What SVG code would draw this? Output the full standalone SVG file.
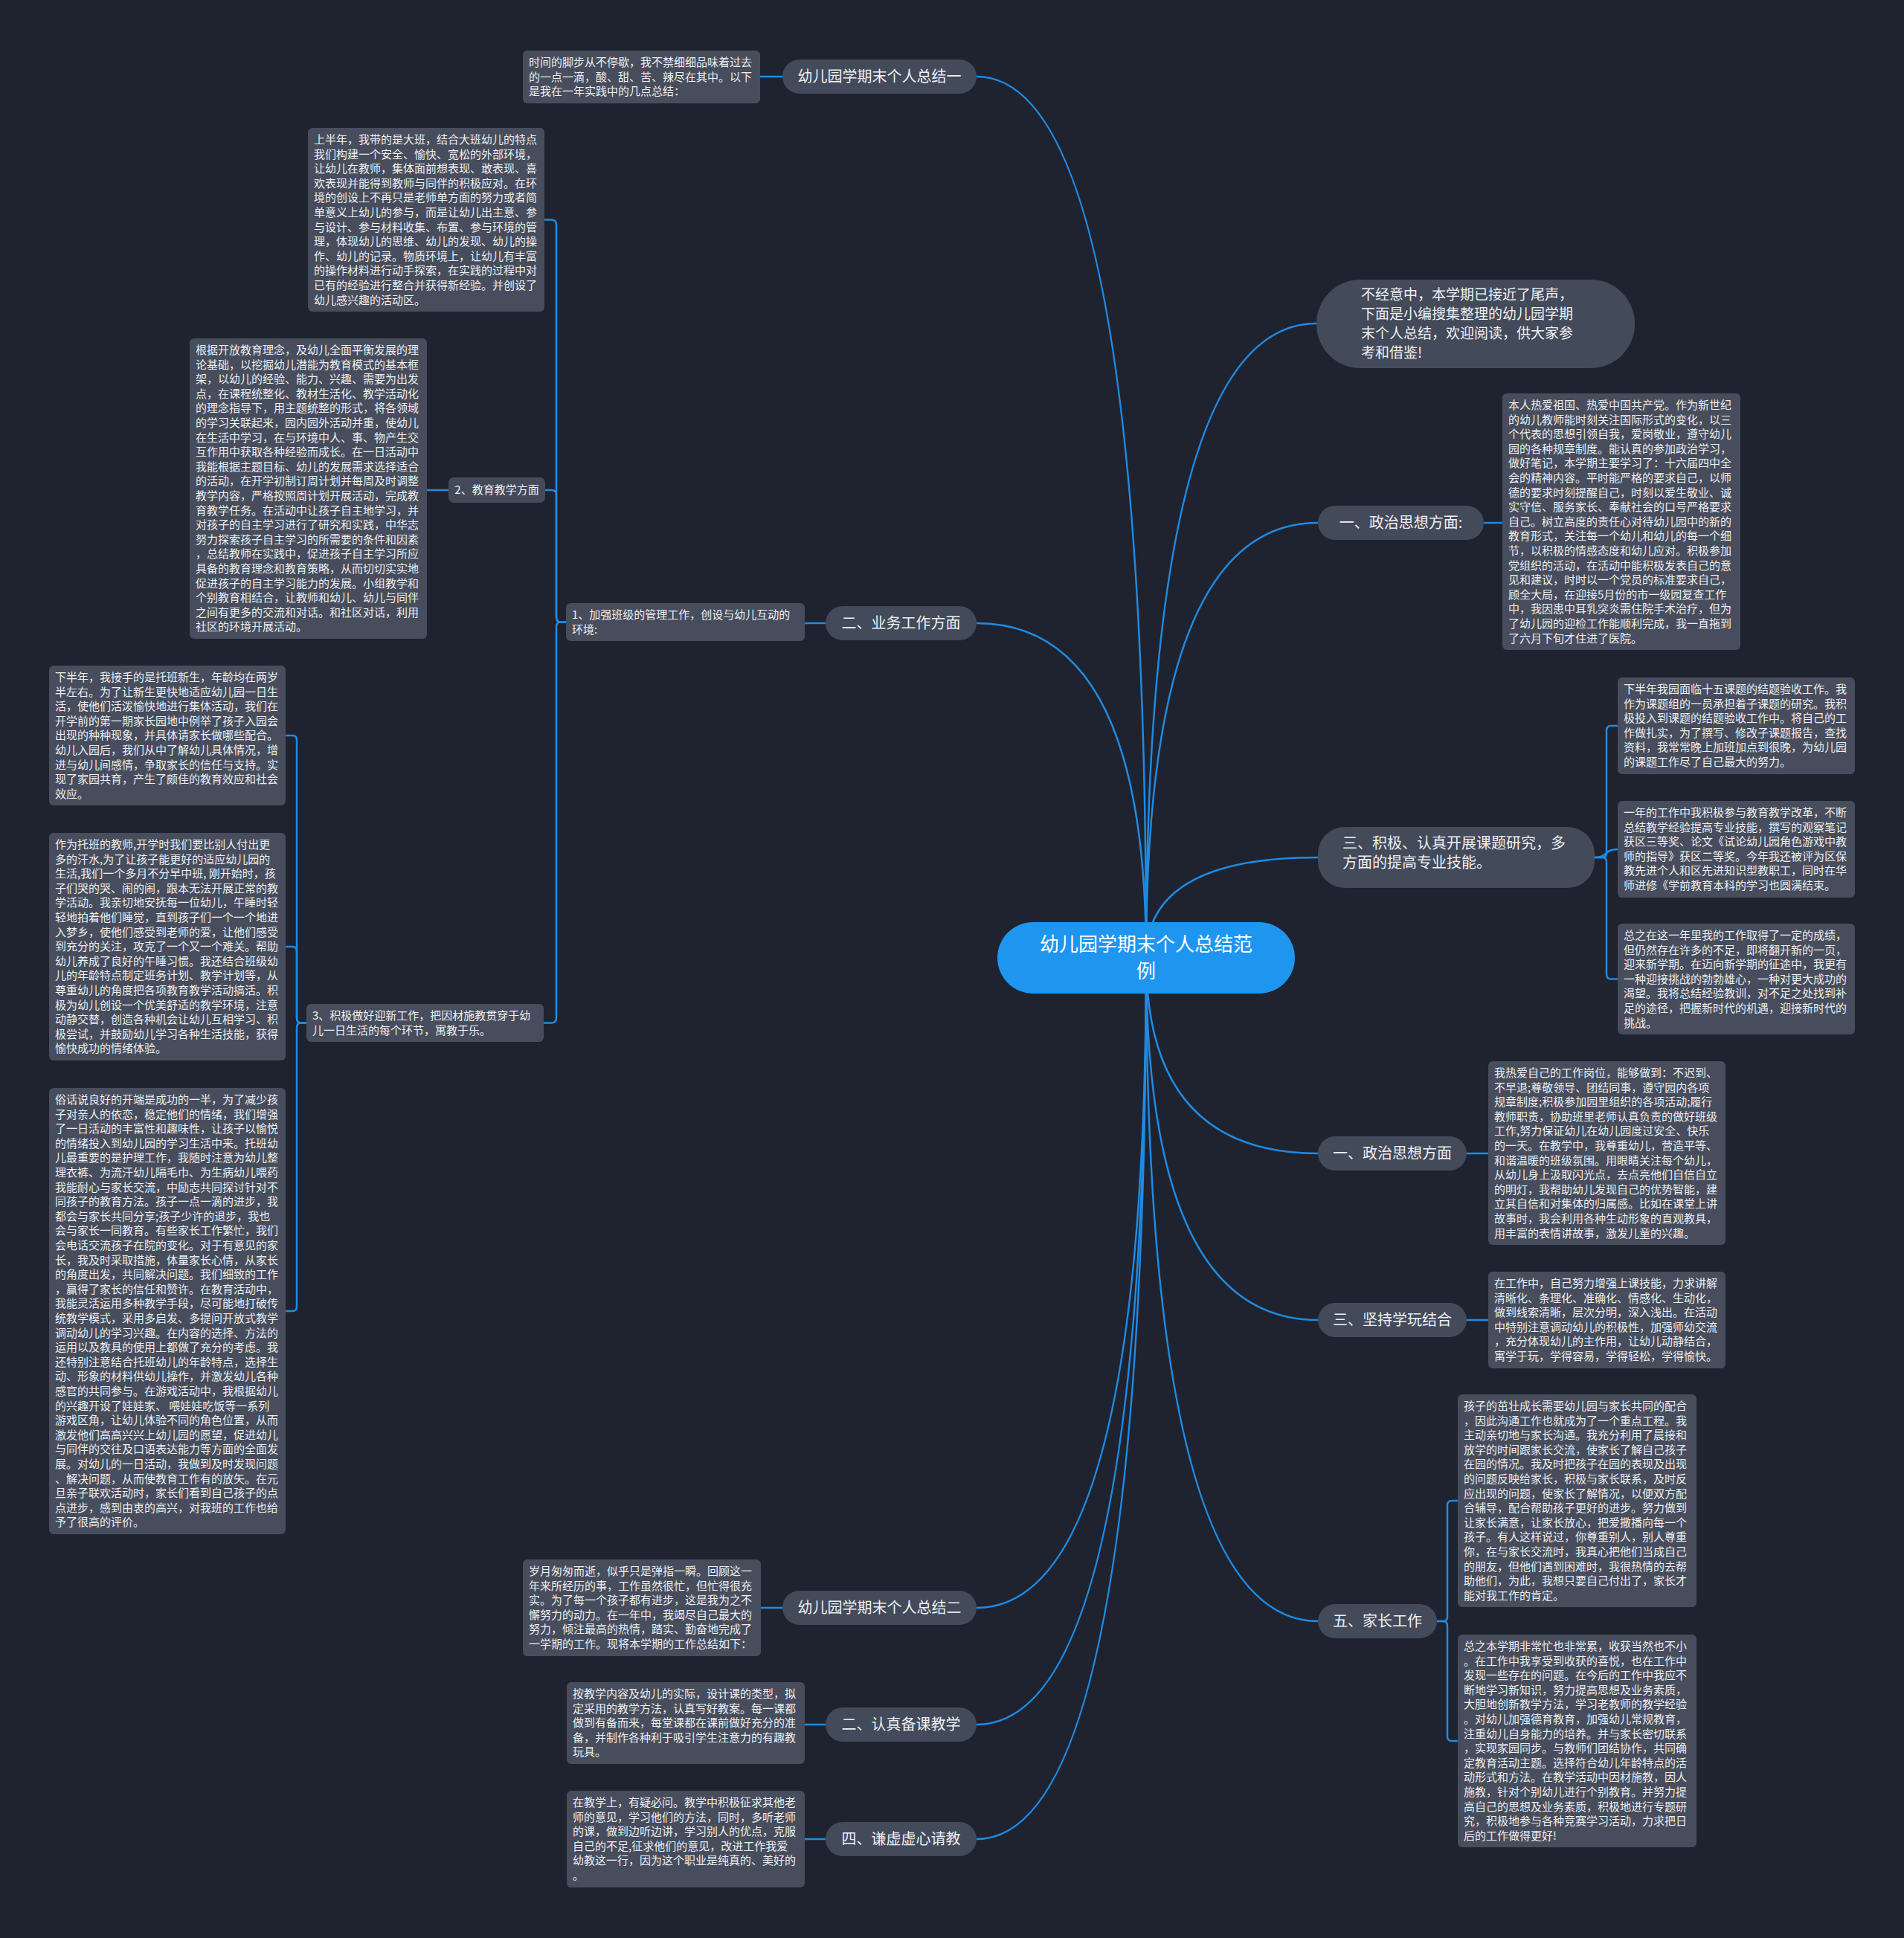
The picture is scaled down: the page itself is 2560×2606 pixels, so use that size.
<svg xmlns="http://www.w3.org/2000/svg" width="2560" height="2606" viewBox="0 0 2560 2606">
<style>
.bg{fill:#1f2330}
.box{fill:#474d5c}
.node{fill:#434a5a}
.t{font-family:"Noto Sans CJK SC","Noto Sans",sans-serif;font-size:15px;fill:#eef0f3}
.nt{font-family:"Noto Sans CJK SC","Noto Sans",sans-serif;font-size:20px;fill:#eef0f3}
.ct{font-family:"Noto Sans CJK SC","Noto Sans",sans-serif;font-size:26px;fill:#ffffff}
.link{fill:none;stroke:#1f8be3;stroke-width:2.5}
</style>
<rect class="bg" x="0" y="0" width="2560" height="2606"/>
<g id="connectors">
<path class="link" d="M1541,1288 Q1541,103 1313,103"/>
<path class="link" d="M1541,1288 Q1541,838 1313,838"/>
<path class="link" d="M1541,1288 Q1541,2162 1313,2162"/>
<path class="link" d="M1541,1288 Q1541,2319 1313,2319"/>
<path class="link" d="M1541,1288 Q1541,2473 1313,2473"/>
<path class="link" d="M1541,1288 Q1541,435 1770,435"/>
<path class="link" d="M1541,1288 Q1541,703 1772,703"/>
<path class="link" d="M1541,1288 Q1541,1153 1772,1153"/>
<path class="link" d="M1541,1288 Q1541,1551 1772,1551"/>
<path class="link" d="M1541,1288 Q1541,1775 1772,1775"/>
<path class="link" d="M1541,1288 Q1541,2180 1772,2180"/>
<path class="link" d="M1052,103 H1022"/>
<path class="link" d="M1110,838 H1082"/>
<path class="link" d="M761,836.5 H754 Q748,836.5 748,830 V302 Q748,295.5 741,295.5 H731"/>
<path class="link" d="M761,836.5 H754 Q748,836.5 748,830 V665 Q748,659 741,659 H733"/>
<path class="link" d="M761,836.5 H754 Q748,836.5 748,843 V1369 Q748,1375.5 741,1375.5 H731"/>
<path class="link" d="M603,659 H574"/>
<path class="link" d="M412,1375.5 H405 Q399,1375.5 399,1369 V995 Q399,989 393,989 H384"/>
<path class="link" d="M412,1375.5 H405 Q399,1375.5 399,1369 V1279 Q399,1273 393,1273 H384"/>
<path class="link" d="M412,1375.5 H405 Q399,1375.5 399,1382 V1757 Q399,1763 393,1763 H384"/>
<path class="link" d="M1052,2162 H1023"/>
<path class="link" d="M1110,2319 H1082"/>
<path class="link" d="M1110,2473 H1082"/>
<path class="link" d="M1995,703 H2020"/>
<path class="link" d="M2144,1153 H2154 Q2160,1153 2160,1147 V982 Q2160,976 2166,976 H2175"/>
<path class="link" d="M2144,1153 C2162,1153 2156,1142 2175,1142"/>
<path class="link" d="M2144,1153 H2154 Q2160,1153 2160,1159 V1310 Q2160,1316.5 2166,1316.5 H2175"/>
<path class="link" d="M1972,1551 H2001"/>
<path class="link" d="M1972,1775 H2001"/>
<path class="link" d="M1932,2180 H1940 Q1946,2180 1946,2174 V2024 Q1946,2018 1952,2018 H1960"/>
<path class="link" d="M1932,2180 H1940 Q1946,2180 1946,2186 V2335 Q1946,2341 1952,2341 H1960"/>
</g>
<g id="center">
<rect x="1341" y="1240" width="400" height="96" rx="48" fill="#1e96f0"/>
<text class="ct" text-anchor="middle"><tspan x="1541" y="1279">幼儿园学期末个人总结范</tspan><tspan x="1541" y="1315">例</tspan></text>
</g>
<g id="n-summary1">
<rect class="node" x="1052" y="80" width="261" height="46" rx="23"/>
<text class="nt" x="1182.5" y="110" text-anchor="middle">幼儿园学期末个人总结一</text>
</g>
<g id="b-summary1">
<rect class="box" x="703" y="68" width="319" height="71" rx="6"/>
<text class="t" x="711" y="89"><tspan x="711">时间的脚步从不停歇，我不禁细细品味着过去</tspan><tspan x="711" dy="19.6">的一点一滴，酸、甜、苦、辣尽在其中。以下</tspan><tspan x="711" dy="19.6">是我在一年实践中的几点总结：</tspan></text>
</g>
<g id="n-business">
<rect class="node" x="1110" y="815" width="203" height="46" rx="23"/>
<text class="nt" x="1211.5" y="845" text-anchor="middle">二、业务工作方面</text>
</g>
<g id="b-class">
<rect class="box" x="761" y="811" width="321" height="51" rx="6"/>
<text class="t" x="769" y="832"><tspan x="769">1、加强班级的管理工作，创设与幼儿互动的</tspan><tspan x="769" dy="19.6">环境:</tspan></text>
</g>
<g id="b-firsthalf">
<rect class="box" x="414" y="172" width="318" height="247" rx="6"/>
<text class="t" x="422" y="193"><tspan x="422">上半年，我带的是大班，结合大班幼儿的特点</tspan><tspan x="422" dy="19.6">我们构建一个安全、愉快、宽松的外部环境，</tspan><tspan x="422" dy="19.6">让幼儿在教师，集体面前想表现、敢表现、喜</tspan><tspan x="422" dy="19.6">欢表现并能得到教师与同伴的积极应对。在环</tspan><tspan x="422" dy="19.6">境的创设上不再只是老师单方面的努力或者简</tspan><tspan x="422" dy="19.6">单意义上幼儿的参与，而是让幼儿出主意、参</tspan><tspan x="422" dy="19.6">与设计、参与材料收集、布置、参与环境的管</tspan><tspan x="422" dy="19.6">理，体现幼儿的思维、幼儿的发现、幼儿的操</tspan><tspan x="422" dy="19.6">作、幼儿的记录。物质环境上，让幼儿有丰富</tspan><tspan x="422" dy="19.6">的操作材料进行动手探索，在实践的过程中对</tspan><tspan x="422" dy="19.6">已有的经验进行整合并获得新经验。并创设了</tspan><tspan x="422" dy="19.6">幼儿感兴趣的活动区。</tspan></text>
</g>
<g id="n-teaching">
<rect class="node" x="603" y="642" width="130" height="34" rx="7"/>
<text class="t" x="668" y="664" text-anchor="middle">2、教育教学方面</text>
</g>
<g id="b-teaching">
<rect class="box" x="255" y="455" width="319" height="404" rx="6"/>
<text class="t" x="263" y="476"><tspan x="263">根据开放教育理念，及幼儿全面平衡发展的理</tspan><tspan x="263" dy="19.6">论基础，以挖掘幼儿潜能为教育模式的基本框</tspan><tspan x="263" dy="19.6">架，以幼儿的经验、能力、兴趣、需要为出发</tspan><tspan x="263" dy="19.6">点，在课程统整化、教材生活化、教学活动化</tspan><tspan x="263" dy="19.6">的理念指导下，用主题统整的形式，将各领域</tspan><tspan x="263" dy="19.6">的学习关联起来，园内园外活动并重，使幼儿</tspan><tspan x="263" dy="19.6">在生活中学习，在与环境中人、事、物产生交</tspan><tspan x="263" dy="19.6">互作用中获取各种经验而成长。在一日活动中</tspan><tspan x="263" dy="19.6">我能根据主题目标、幼儿的发展需求选择适合</tspan><tspan x="263" dy="19.6">的活动，在开学初制订周计划并每周及时调整</tspan><tspan x="263" dy="19.6">教学内容，严格按照周计划开展活动，完成教</tspan><tspan x="263" dy="19.6">育教学任务。在活动中让孩子自主地学习，并</tspan><tspan x="263" dy="19.6">对孩子的自主学习进行了研究和实践，中华志</tspan><tspan x="263" dy="19.6">努力探索孩子自主学习的所需要的条件和因素</tspan><tspan x="263" dy="19.6">，总结教师在实践中，促进孩子自主学习所应</tspan><tspan x="263" dy="19.6">具备的教育理念和教育策略，从而切切实实地</tspan><tspan x="263" dy="19.6">促进孩子的自主学习能力的发展。小组教学和</tspan><tspan x="263" dy="19.6">个别教育相结合，让教师和幼儿、幼儿与同伴</tspan><tspan x="263" dy="19.6">之间有更多的交流和对话。和社区对话，利用</tspan><tspan x="263" dy="19.6">社区的环境开展活动。</tspan></text>
</g>
<g id="b-welcome">
<rect class="box" x="412" y="1350" width="319" height="51" rx="6"/>
<text class="t" x="420" y="1371"><tspan x="420">3、积极做好迎新工作，把因材施教贯穿于幼</tspan><tspan x="420" dy="19.6">儿一日生活的每个环节，寓教于乐。</tspan></text>
</g>
<g id="b-secondhalf">
<rect class="box" x="66" y="895" width="318" height="188" rx="6"/>
<text class="t" x="74" y="916"><tspan x="74">下半年，我接手的是托班新生，年龄均在两岁</tspan><tspan x="74" dy="19.6">半左右。为了让新生更快地适应幼儿园一日生</tspan><tspan x="74" dy="19.6">活，使他们活泼愉快地进行集体活动，我们在</tspan><tspan x="74" dy="19.6">开学前的第一期家长园地中例举了孩子入园会</tspan><tspan x="74" dy="19.6">出现的种种现象，并具体请家长做哪些配合。</tspan><tspan x="74" dy="19.6">幼儿入园后，我们从中了解幼儿具体情况，增</tspan><tspan x="74" dy="19.6">进与幼儿间感情，争取家长的信任与支持。实</tspan><tspan x="74" dy="19.6">现了家园共育，产生了颇佳的教育效应和社会</tspan><tspan x="74" dy="19.6">效应。</tspan></text>
</g>
<g id="b-nursery">
<rect class="box" x="66" y="1120" width="318" height="306" rx="6"/>
<text class="t" x="74" y="1141"><tspan x="74">作为托班的教师,开学时我们要比别人付出更</tspan><tspan x="74" dy="19.6">多的汗水,为了让孩子能更好的适应幼儿园的</tspan><tspan x="74" dy="19.6">生活,我们一个多月不分早中班, 刚开始时，孩</tspan><tspan x="74" dy="19.6">子们哭的哭、闹的闹，跟本无法开展正常的教</tspan><tspan x="74" dy="19.6">学活动。我亲切地安抚每一位幼儿，午睡时轻</tspan><tspan x="74" dy="19.6">轻地拍着他们睡觉，直到孩子们一个一个地进</tspan><tspan x="74" dy="19.6">入梦乡，使他们感受到老师的爱，让他们感受</tspan><tspan x="74" dy="19.6">到充分的关注，攻克了一个又一个难关。帮助</tspan><tspan x="74" dy="19.6">幼儿养成了良好的午睡习惯。我还结合班级幼</tspan><tspan x="74" dy="19.6">儿的年龄特点制定班务计划、教学计划等，从</tspan><tspan x="74" dy="19.6">尊重幼儿的角度把各项教育教学活动搞活。积</tspan><tspan x="74" dy="19.6">极为幼儿创设一个优美舒适的教学环境，注意</tspan><tspan x="74" dy="19.6">动静交替，创造各种机会让幼儿互相学习、积</tspan><tspan x="74" dy="19.6">极尝试，并鼓励幼儿学习各种生活技能，获得</tspan><tspan x="74" dy="19.6">愉快成功的情绪体验。</tspan></text>
</g>
<g id="b-start">
<rect class="box" x="66" y="1463" width="318" height="600" rx="6"/>
<text class="t" x="74" y="1484"><tspan x="74">俗话说良好的开端是成功的一半，为了减少孩</tspan><tspan x="74" dy="19.6">子对亲人的依恋，稳定他们的情绪，我们增强</tspan><tspan x="74" dy="19.6">了一日活动的丰富性和趣味性，让孩子以愉悦</tspan><tspan x="74" dy="19.6">的情绪投入到幼儿园的学习生活中来。托班幼</tspan><tspan x="74" dy="19.6">儿最重要的是护理工作，我随时注意为幼儿整</tspan><tspan x="74" dy="19.6">理衣裤、为流汗幼儿隔毛巾、为生病幼儿喂药</tspan><tspan x="74" dy="19.6">我能耐心与家长交流，中励志共同探讨针对不</tspan><tspan x="74" dy="19.6">同孩子的教育方法。孩子一点一滴的进步，我</tspan><tspan x="74" dy="19.6">都会与家长共同分享;孩子少许的退步，我也</tspan><tspan x="74" dy="19.6">会与家长一同教育。有些家长工作繁忙，我们</tspan><tspan x="74" dy="19.6">会电话交流孩子在院的变化。对于有意见的家</tspan><tspan x="74" dy="19.6">长，我及时采取措施，体量家长心情，从家长</tspan><tspan x="74" dy="19.6">的角度出发，共同解决问题。我们细致的工作</tspan><tspan x="74" dy="19.6">，赢得了家长的信任和赞许。在教育活动中，</tspan><tspan x="74" dy="19.6">我能灵活运用多种教学手段，尽可能地打破传</tspan><tspan x="74" dy="19.6">统教学模式，采用多启发、多提问开放式教学</tspan><tspan x="74" dy="19.6">调动幼儿的学习兴趣。在内容的选择、方法的</tspan><tspan x="74" dy="19.6">运用以及教具的使用上都做了充分的考虑。我</tspan><tspan x="74" dy="19.6">还特别注意结合托班幼儿的年龄特点，选择生</tspan><tspan x="74" dy="19.6">动、形象的材料供幼儿操作，并激发幼儿各种</tspan><tspan x="74" dy="19.6">感官的共同参与。在游戏活动中，我根据幼儿</tspan><tspan x="74" dy="19.6">的兴趣开设了娃娃家、 喂娃娃吃饭等一系列</tspan><tspan x="74" dy="19.6">游戏区角，让幼儿体验不同的角色位置，从而</tspan><tspan x="74" dy="19.6">激发他们高高兴兴上幼儿园的愿望，促进幼儿</tspan><tspan x="74" dy="19.6">与同伴的交往及口语表达能力等方面的全面发</tspan><tspan x="74" dy="19.6">展。对幼儿的一日活动，我做到及时发现问题</tspan><tspan x="74" dy="19.6">、解决问题，从而使教育工作有的放矢。在元</tspan><tspan x="74" dy="19.6">旦亲子联欢活动时，家长们看到自己孩子的点</tspan><tspan x="74" dy="19.6">点进步，感到由衷的高兴，对我班的工作也给</tspan><tspan x="74" dy="19.6">予了很高的评价。</tspan></text>
</g>
<g id="n-summary2">
<rect class="node" x="1052" y="2139" width="261" height="46" rx="23"/>
<text class="nt" x="1182.5" y="2169" text-anchor="middle">幼儿园学期末个人总结二</text>
</g>
<g id="b-summary2">
<rect class="box" x="703" y="2097" width="320" height="130" rx="6"/>
<text class="t" x="711" y="2118"><tspan x="711">岁月匆匆而逝，似乎只是弹指一瞬。回顾这一</tspan><tspan x="711" dy="19.6">年来所经历的事，工作虽然很忙，但忙得很充</tspan><tspan x="711" dy="19.6">实。为了每一个孩子都有进步，这是我为之不</tspan><tspan x="711" dy="19.6">懈努力的动力。在一年中，我竭尽自己最大的</tspan><tspan x="711" dy="19.6">努力，倾注最高的热情，踏实、勤奋地完成了</tspan><tspan x="711" dy="19.6">一学期的工作。现将本学期的工作总结如下：</tspan></text>
</g>
<g id="n-prepare">
<rect class="node" x="1110" y="2296" width="203" height="46" rx="23"/>
<text class="nt" x="1211.5" y="2326" text-anchor="middle">二、认真备课教学</text>
</g>
<g id="b-prepare">
<rect class="box" x="762" y="2262" width="320" height="110" rx="6"/>
<text class="t" x="770" y="2283"><tspan x="770">按教学内容及幼儿的实际，设计课的类型，拟</tspan><tspan x="770" dy="19.6">定采用的教学方法，认真写好教案。每一课都</tspan><tspan x="770" dy="19.6">做到有备而来，每堂课都在课前做好充分的准</tspan><tspan x="770" dy="19.6">备，并制作各种利于吸引学生注意力的有趣教</tspan><tspan x="770" dy="19.6">玩具。</tspan></text>
</g>
<g id="n-humble">
<rect class="node" x="1110" y="2450" width="203" height="46" rx="23"/>
<text class="nt" x="1211.5" y="2480" text-anchor="middle">四、谦虚虚心请教</text>
</g>
<g id="b-humble">
<rect class="box" x="762" y="2408" width="320" height="130" rx="6"/>
<text class="t" x="770" y="2429"><tspan x="770">在教学上，有疑必问。教学中积极征求其他老</tspan><tspan x="770" dy="19.6">师的意见，学习他们的方法，同时，多听老师</tspan><tspan x="770" dy="19.6">的课，做到边听边讲，学习别人的优点，克服</tspan><tspan x="770" dy="19.6">自己的不足,征求他们的意见，改进工作我爱</tspan><tspan x="770" dy="19.6">幼教这一行，因为这个职业是纯真的、美好的</tspan><tspan x="770" dy="19.6">。</tspan></text>
</g>
<g id="n-intro">
<rect class="node" x="1770" y="376" width="428" height="119" rx="59"/>
<text class="nt" x="1830" y="403" style="font-size:19px"><tspan x="1830">不经意中，本学期已接近了尾声，</tspan><tspan x="1830" dy="26">下面是小编搜集整理的幼儿园学期</tspan><tspan x="1830" dy="26">末个人总结，欢迎阅读，供大家参</tspan><tspan x="1830" dy="26">考和借鉴!</tspan></text>
</g>
<g id="n-politics1">
<rect class="node" x="1772" y="680" width="223" height="46" rx="23"/>
<text class="nt" x="1883.5" y="710" text-anchor="middle">一、政治思想方面:</text>
</g>
<g id="b-politics1">
<rect class="box" x="2020" y="529" width="320" height="345" rx="6"/>
<text class="t" x="2028" y="550"><tspan x="2028">本人热爱祖国、热爱中国共产党。作为新世纪</tspan><tspan x="2028" dy="19.6">的幼儿教师能时刻关注国际形式的变化，以三</tspan><tspan x="2028" dy="19.6">个代表的思想引领自我，爱岗敬业，遵守幼儿</tspan><tspan x="2028" dy="19.6">园的各种规章制度。能认真的参加政治学习，</tspan><tspan x="2028" dy="19.6">做好笔记，本学期主要学习了：十六届四中全</tspan><tspan x="2028" dy="19.6">会的精神内容。平时能严格的要求自己，以师</tspan><tspan x="2028" dy="19.6">德的要求时刻提醒自己，时刻以爱生敬业、诚</tspan><tspan x="2028" dy="19.6">实守信、服务家长、奉献社会的口号严格要求</tspan><tspan x="2028" dy="19.6">自己。树立高度的责任心对待幼儿园中的新的</tspan><tspan x="2028" dy="19.6">教育形式，关注每一个幼儿和幼儿的每一个细</tspan><tspan x="2028" dy="19.6">节，以积极的情感态度和幼儿应对。积极参加</tspan><tspan x="2028" dy="19.6">党组织的活动，在活动中能积极发表自己的意</tspan><tspan x="2028" dy="19.6">见和建议，时时以一个党员的标准要求自己，</tspan><tspan x="2028" dy="19.6">顾全大局，在迎接5月份的市一级园复查工作</tspan><tspan x="2028" dy="19.6">中，我因患中耳乳突炎需住院手术治疗，但为</tspan><tspan x="2028" dy="19.6">了幼儿园的迎检工作能顺利完成，我一直拖到</tspan><tspan x="2028" dy="19.6">了六月下旬才住进了医院。</tspan></text>
</g>
<g id="n-research">
<rect class="node" x="1772" y="1112" width="372" height="82" rx="36"/>
<text class="nt" x="1805" y="1141"><tspan x="1805">三、积极、认真开展课题研究，多</tspan><tspan x="1805" dy="26">方面的提高专业技能。</tspan></text>
</g>
<g id="b-research1">
<rect class="box" x="2175" y="911" width="319" height="130" rx="6"/>
<text class="t" x="2183" y="932"><tspan x="2183">下半年我园面临十五课题的结题验收工作。我</tspan><tspan x="2183" dy="19.6">作为课题组的一员承担着子课题的研究。我积</tspan><tspan x="2183" dy="19.6">极投入到课题的结题验收工作中。将自己的工</tspan><tspan x="2183" dy="19.6">作做扎实，为了撰写、修改子课题报告，查找</tspan><tspan x="2183" dy="19.6">资料，我常常晚上加班加点到很晚，为幼儿园</tspan><tspan x="2183" dy="19.6">的课题工作尽了自己最大的努力。</tspan></text>
</g>
<g id="b-research2">
<rect class="box" x="2175" y="1077" width="319" height="130" rx="6"/>
<text class="t" x="2183" y="1098"><tspan x="2183">一年的工作中我积极参与教育教学改革，不断</tspan><tspan x="2183" dy="19.6">总结教学经验提高专业技能，撰写的观察笔记</tspan><tspan x="2183" dy="19.6">获区三等奖、论文《试论幼儿园角色游戏中教</tspan><tspan x="2183" dy="19.6">师的指导》获区二等奖。今年我还被评为区保</tspan><tspan x="2183" dy="19.6">教先进个人和区先进知识型教职工，同时在华</tspan><tspan x="2183" dy="19.6">师进修《学前教育本科的学习也圆满结束。</tspan></text>
</g>
<g id="b-research3">
<rect class="box" x="2175" y="1242" width="319" height="149" rx="6"/>
<text class="t" x="2183" y="1263"><tspan x="2183">总之在这一年里我的工作取得了一定的成绩，</tspan><tspan x="2183" dy="19.6">但仍然存在许多的不足，即将翻开新的一页，</tspan><tspan x="2183" dy="19.6">迎来新学期。在迈向新学期的征途中，我更有</tspan><tspan x="2183" dy="19.6">一种迎接挑战的勃勃雄心，一种对更大成功的</tspan><tspan x="2183" dy="19.6">渴望。我将总结经验教训，对不足之处找到补</tspan><tspan x="2183" dy="19.6">足的途径，把握新时代的机遇，迎接新时代的</tspan><tspan x="2183" dy="19.6">挑战。</tspan></text>
</g>
<g id="n-politics2">
<rect class="node" x="1772" y="1528" width="200" height="46" rx="23"/>
<text class="nt" x="1872" y="1558" text-anchor="middle">一、政治思想方面</text>
</g>
<g id="b-politics2">
<rect class="box" x="2001" y="1427" width="319" height="247" rx="6"/>
<text class="t" x="2009" y="1448"><tspan x="2009">我热爱自己的工作岗位，能够做到：不迟到、</tspan><tspan x="2009" dy="19.6">不早退;尊敬领导、团结同事，遵守园内各项</tspan><tspan x="2009" dy="19.6">规章制度;积极参加园里组织的各项活动;履行</tspan><tspan x="2009" dy="19.6">教师职责，协助班里老师认真负责的做好班级</tspan><tspan x="2009" dy="19.6">工作,努力保证幼儿在幼儿园度过安全、快乐</tspan><tspan x="2009" dy="19.6">的一天。在教学中，我尊重幼儿，营造平等、</tspan><tspan x="2009" dy="19.6">和谐温暖的班级氛围。用眼睛关注每个幼儿，</tspan><tspan x="2009" dy="19.6">从幼儿身上汲取闪光点，去点亮他们自信自立</tspan><tspan x="2009" dy="19.6">的明灯，我帮助幼儿发现自己的优势智能，建</tspan><tspan x="2009" dy="19.6">立其自信和对集体的归属感。比如在课堂上讲</tspan><tspan x="2009" dy="19.6">故事时，我会利用各种生动形象的直观教具，</tspan><tspan x="2009" dy="19.6">用丰富的表情讲故事，激发儿童的兴趣。</tspan></text>
</g>
<g id="n-play">
<rect class="node" x="1772" y="1752" width="200" height="46" rx="23"/>
<text class="nt" x="1872" y="1782" text-anchor="middle">三、坚持学玩结合</text>
</g>
<g id="b-play">
<rect class="box" x="2001" y="1710" width="319" height="130" rx="6"/>
<text class="t" x="2009" y="1731"><tspan x="2009">在工作中，自己努力增强上课技能，力求讲解</tspan><tspan x="2009" dy="19.6">清晰化、条理化、准确化、情感化、生动化，</tspan><tspan x="2009" dy="19.6">做到线索清晰，层次分明，深入浅出。在活动</tspan><tspan x="2009" dy="19.6">中特别注意调动幼儿的积极性，加强师幼交流</tspan><tspan x="2009" dy="19.6">，充分体现幼儿的主作用，让幼儿动静结合，</tspan><tspan x="2009" dy="19.6">寓学于玩，学得容易，学得轻松，学得愉快。</tspan></text>
</g>
<g id="n-parents">
<rect class="node" x="1772" y="2157" width="160" height="46" rx="23"/>
<text class="nt" x="1852" y="2187" text-anchor="middle">五、家长工作</text>
</g>
<g id="b-parents1">
<rect class="box" x="1960" y="1875" width="321" height="286" rx="6"/>
<text class="t" x="1968" y="1896"><tspan x="1968">孩子的茁壮成长需要幼儿园与家长共同的配合</tspan><tspan x="1968" dy="19.6">，因此沟通工作也就成为了一个重点工程。我</tspan><tspan x="1968" dy="19.6">主动亲切地与家长沟通。我充分利用了晨接和</tspan><tspan x="1968" dy="19.6">放学的时间跟家长交流，使家长了解自己孩子</tspan><tspan x="1968" dy="19.6">在园的情况。我及时把孩子在园的表现及出现</tspan><tspan x="1968" dy="19.6">的问题反映给家长，积极与家长联系，及时反</tspan><tspan x="1968" dy="19.6">应出现的问题，使家长了解情况，以便双方配</tspan><tspan x="1968" dy="19.6">合辅导，配合帮助孩子更好的进步。努力做到</tspan><tspan x="1968" dy="19.6">让家长满意，让家长放心，把爱撒播向每一个</tspan><tspan x="1968" dy="19.6">孩子。有人这样说过，你尊重别人，别人尊重</tspan><tspan x="1968" dy="19.6">你，在与家长交流时，我真心把他们当成自己</tspan><tspan x="1968" dy="19.6">的朋友，但他们遇到困难时，我很热情的去帮</tspan><tspan x="1968" dy="19.6">助他们，为此，我想只要自己付出了，家长才</tspan><tspan x="1968" dy="19.6">能对我工作的肯定。</tspan></text>
</g>
<g id="b-parents2">
<rect class="box" x="1960" y="2198" width="321" height="286" rx="6"/>
<text class="t" x="1968" y="2219"><tspan x="1968">总之本学期非常忙也非常累，收获当然也不小</tspan><tspan x="1968" dy="19.6">。在工作中我享受到收获的喜悦，也在工作中</tspan><tspan x="1968" dy="19.6">发现一些存在的问题。在今后的工作中我应不</tspan><tspan x="1968" dy="19.6">断地学习新知识，努力提高思想及业务素质，</tspan><tspan x="1968" dy="19.6">大胆地创新教学方法，学习老教师的教学经验</tspan><tspan x="1968" dy="19.6">。对幼儿加强德育教育，加强幼儿常规教育，</tspan><tspan x="1968" dy="19.6">注重幼儿自身能力的培养。并与家长密切联系</tspan><tspan x="1968" dy="19.6">，实现家园同步。与教师们团结协作，共同确</tspan><tspan x="1968" dy="19.6">定教育活动主题。选择符合幼儿年龄特点的活</tspan><tspan x="1968" dy="19.6">动形式和方法。在教学活动中因材施教，因人</tspan><tspan x="1968" dy="19.6">施教，针对个别幼儿进行个别教育。并努力提</tspan><tspan x="1968" dy="19.6">高自己的思想及业务素质，积极地进行专题研</tspan><tspan x="1968" dy="19.6">究，积极地参与各种竞赛学习活动，力求把日</tspan><tspan x="1968" dy="19.6">后的工作做得更好!</tspan></text>
</g>
</svg>
